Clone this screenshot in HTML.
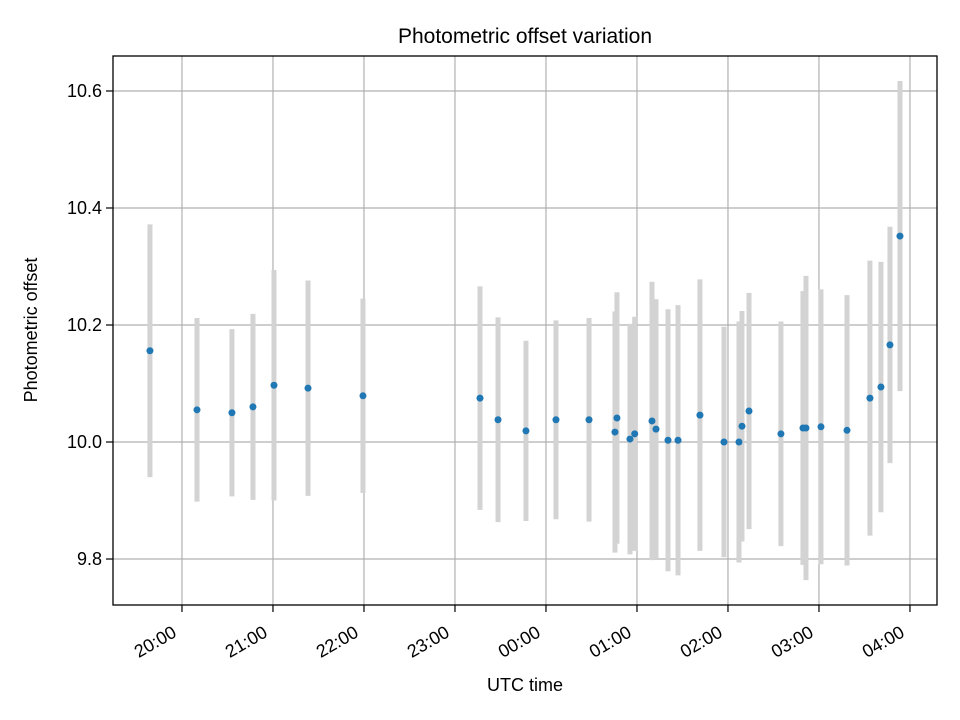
<!DOCTYPE html>
<html><head><meta charset="utf-8"><style>
body{margin:0;background:#fff}
svg{display:block;font-family:"Liberation Sans","DejaVu Sans",sans-serif}
</style></head><body>
<svg id="chart" width="960" height="720">
<rect x="0" y="0" width="960" height="720" fill="#fff"/>
<text x="525" y="43" text-anchor="middle" font-size="21" fill="#000">Photometric offset variation</text>
<g id="grid"></g>
<g id="bars"></g>
<g id="points"></g>
<rect x="113" y="56" width="824" height="549" fill="none" stroke="#000" stroke-width="1.3"/>
<g id="axes"></g>
<text x="525" y="691" text-anchor="middle" font-size="18">UTC time</text>
<text transform="translate(37,330) rotate(-90)" text-anchor="middle" font-size="18">Photometric offset</text>
</svg>
<script>
// hours since midnight of first night (values >24 are after midnight)
const times=[19.648,20.165,20.549,20.780,21.011,21.385,21.989,23.275,23.473,23.780,24.110,24.473,24.758,24.780,24.923,24.975,25.165,25.209,25.341,25.451,25.692,25.956,26.121,26.154,26.231,26.582,26.824,26.857,27.022,27.308,27.560,27.681,27.780,27.890];
const offsets=[10.156,10.055,10.050,10.060,10.097,10.092,10.079,10.075,10.038,10.019,10.038,10.038,10.017,10.041,10.005,10.014,10.036,10.022,10.003,10.003,10.046,10.000,10.000,10.027,10.053,10.014,10.024,10.024,10.026,10.020,10.075,10.094,10.166,10.352];
const errors=[0.216,0.157,0.143,0.159,0.197,0.184,0.166,0.191,0.175,0.154,0.170,0.174,0.206,0.215,0.197,0.200,0.238,0.222,0.224,0.231,0.232,0.197,0.206,0.197,0.202,0.192,0.234,0.260,0.235,0.231,0.235,0.214,0.202,0.265];
const xTicks=[20,21,22,23,24,25,26,27,28];
const xTickLabels=["20:00","21:00","22:00","23:00","00:00","01:00","02:00","03:00","04:00"];
const yTicks=[9.8,10.0,10.2,10.4,10.6];
const yTickLabels=["9.8","10.0","10.2","10.4","10.6"];

const NS="http://www.w3.org/2000/svg";
const X0=113,X1=937,Y0=56,Y1=605;
const xmin=19.242,xmax=28.297,ymin=9.7214,ymax=10.6598;
const sx=h=>X0+(h-xmin)/(xmax-xmin)*(X1-X0);
const sy=v=>Y1-(v-ymin)/(ymax-ymin)*(Y1-Y0);
function mk(tag,attrs,parent){const e=document.createElementNS(NS,tag);for(const k in attrs)e.setAttribute(k,attrs[k]);parent.appendChild(e);return e;}
const grid=document.getElementById('grid'),axes=document.getElementById('axes'),bars=document.getElementById('bars'),pts=document.getElementById('points');
xTicks.forEach((t,i)=>{
  const x=sx(t);
  const g=mk('line',{x1:x,x2:x,y1:Y0,y2:Y1,stroke:'#b0b0b0','stroke-width':1.2},grid);
  
  
  const tk=mk('line',{x1:x,x2:x,y1:Y1,y2:Y1+7,stroke:'#000','stroke-width':1.2},axes);
  
  
  const lb=mk('text',{transform:`translate(${x-11},${Y1+19}) rotate(-30)`,'text-anchor':'end',dy:'0.75em','font-size':18},axes);
  lb.textContent=xTickLabels[i];
  
  
});
yTicks.forEach((t,i)=>{
  const y=sy(t);
  const g=mk('line',{x1:X0,x2:X1,y1:y,y2:y,stroke:'#b0b0b0','stroke-width':1.2},grid);
  
  
  const tk=mk('line',{x1:X0-7,x2:X0,y1:y,y2:y,stroke:'#000','stroke-width':1.2},axes);
  
  
  const lb=mk('text',{x:X0-11,y:y+6,'text-anchor':'end','font-size':18},axes);
  lb.textContent=yTickLabels[i];
  
  
});
times.forEach((t,i)=>{
  const x=sx(t);
  const b=mk('line',{x1:x,x2:x,y1:sy(offsets[i]+errors[i]),y2:sy(offsets[i]-errors[i]),stroke:'#d3d3d3','stroke-width':5},bars);
  
  
  const c=mk('circle',{cx:x,cy:sy(offsets[i]),r:3.5,fill:'#1f77b4'},pts);
  
  
});
</script>
</body></html>
